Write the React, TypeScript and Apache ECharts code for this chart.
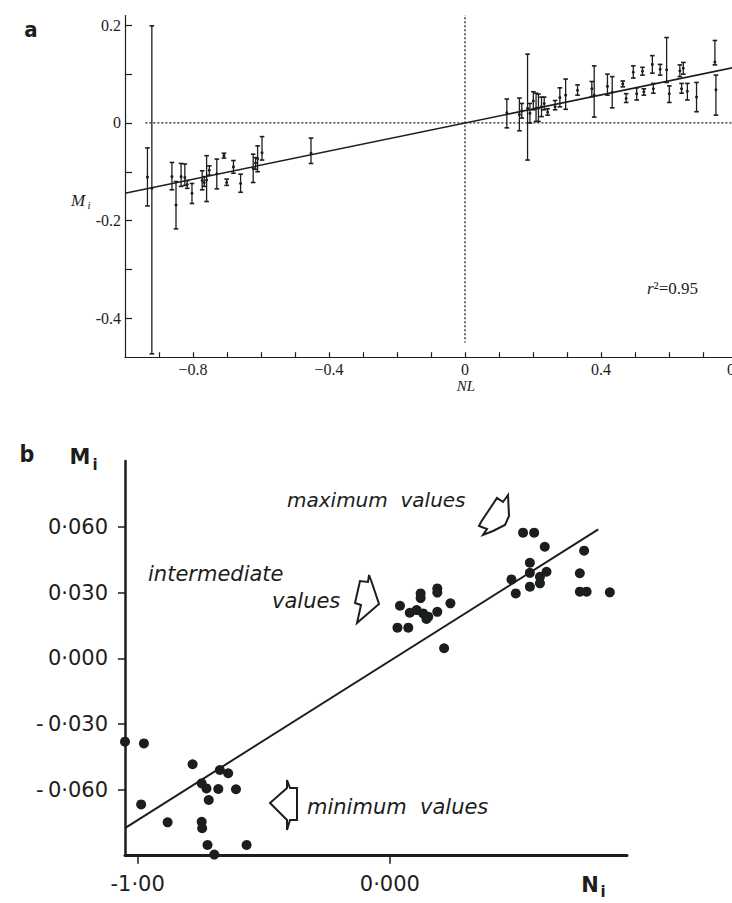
import React, { useEffect, useRef } from 'react';
import * as echarts from 'echarts';

// ---------- Panel a : NL vs M_i with error bars ----------
const aX = [
  -0.934, -0.921, -0.862, -0.850, -0.835, -0.824, -0.817, -0.803, -0.773, -0.767, -0.760,
  -0.752, -0.730, -0.709, -0.701, -0.681, -0.660, -0.623, -0.616, -0.610, -0.597, -0.453,
  0.123, 0.160, 0.167, 0.184, 0.191, 0.201, 0.209, 0.216, 0.225, 0.233, 0.243, 0.265,
  0.279, 0.296, 0.331, 0.373, 0.380, 0.419, 0.433, 0.464, 0.474, 0.495, 0.505, 0.522,
  0.526, 0.551, 0.554, 0.574, 0.593, 0.601, 0.632, 0.642, 0.637, 0.654, 0.681, 0.735, 0.738,
];
const aY = [
  -0.111, -0.134, -0.110, -0.168, -0.110, -0.112, -0.126, -0.144, -0.118, -0.122, -0.117,
  -0.097, -0.104, -0.067, -0.122, -0.090, -0.124, -0.093, -0.082, -0.073, -0.061, -0.062,
  0.021, 0.017, 0.025, 0.030, 0.020, 0.045, 0.030, 0.030, 0.033, 0.040, 0.022, 0.033,
  0.052, 0.057, 0.067, 0.070, 0.057, 0.075, 0.063, 0.080, 0.050, 0.104, 0.060, 0.106,
  0.064, 0.120, 0.070, 0.110, 0.109, 0.060, 0.107, 0.112, 0.070, 0.065, 0.053, 0.125, 0.068,
];
const aLow = [
  -0.170, -0.473, -0.137, -0.217, -0.130, -0.128, -0.134, -0.165, -0.137, -0.130, -0.161,
  -0.107, -0.135, -0.072, -0.128, -0.103, -0.142, -0.122, -0.095, -0.100, -0.076, -0.083,
  -0.010, -0.016, 0.010, -0.076, 0.000, 0.027, 0.003, 0.003, 0.013, 0.027, 0.016, 0.027,
  0.033, 0.028, 0.057, 0.054, 0.012, 0.057, 0.031, 0.074, 0.042, 0.092, 0.047, 0.098,
  0.057, 0.102, 0.061, 0.098, 0.083, 0.042, 0.095, 0.100, 0.061, 0.047, 0.023, 0.119, 0.016,
];
const aHigh = [
  -0.051, 0.199, -0.081, -0.120, -0.083, -0.084, -0.118, -0.124, -0.098, -0.110, -0.067,
  -0.088, -0.074, -0.062, -0.115, -0.077, -0.105, -0.064, -0.071, -0.047, -0.028, -0.031,
  0.049, 0.051, 0.040, 0.141, 0.040, 0.064, 0.061, 0.059, 0.053, 0.053, 0.029, 0.046,
  0.072, 0.090, 0.078, 0.085, 0.117, 0.100, 0.095, 0.086, 0.060, 0.117, 0.072, 0.114,
  0.070, 0.138, 0.081, 0.120, 0.175, 0.076, 0.119, 0.124, 0.081, 0.081, 0.083, 0.169, 0.098,
];
const aFitX = [-1.0, 0.8];
const aFitY = [-0.144, 0.115];
const aXTicks = [-0.9, -0.8, -0.7, -0.6, -0.5, -0.4, -0.3, -0.2, -0.1, 0, 0.1, 0.2, 0.3, 0.4, 0.5, 0.6, 0.7, 0.8];
const aXLabels = [-0.8, -0.4, 0, 0.4, 0.8];
const aYTicks = [0.2, 0.1, 0, -0.1, -0.2, -0.3, -0.4];
const aYLabels = [0.2, 0, -0.2, -0.4];

// ---------- Panel b : N_i vs M_i scatter ----------
const bX = [
  -1.050, -0.975, -0.986, -0.881, -0.782, -0.746, -0.727, -0.718, -0.680, -0.674, -0.641,
  -0.610, -0.746, -0.744, -0.723, -0.696, -0.568,
  0.040, 0.030, 0.073, 0.079, 0.106, 0.122, 0.122, 0.132, 0.145, 0.152, 0.188, 0.188, 0.188,
  0.240, 0.215,
  0.528, 0.572, 0.614, 0.555, 0.482, 0.555, 0.595, 0.621, 0.595, 0.555, 0.499,
  0.770, 0.753, 0.753, 0.780, 0.872,
];
const bY = [
  -0.0380, -0.0388, -0.0666, -0.0748, -0.0483, -0.0570, -0.0593, -0.0646, -0.0596, -0.0509, -0.0524,
  -0.0597, -0.0745, -0.0775, -0.0851, -0.0895, -0.0851,
  0.0240, 0.0140, 0.0140, 0.0208, 0.0220, 0.0296, 0.0275, 0.0205, 0.0180, 0.0190, 0.0319, 0.0300, 0.0212,
  0.0251, 0.0046,
  0.0573, 0.0573, 0.0509, 0.0436, 0.0360, 0.0390, 0.0372, 0.0395, 0.0342, 0.0327, 0.0296,
  0.0491, 0.0388, 0.0304, 0.0304, 0.0301,
];
const bFitX = [-1.05, 0.826];
const bFitY = [-0.0774, 0.0588];
const bXLabels = [-1, 0];
const bYLabels = [0.06, 0.03, 0, -0.03, -0.06];

const INK = '#1d1d1d';
const SERIF = "'Liberation Serif', 'DejaVu Serif', serif";
const SANS = "'DejaVu Sans', sans-serif";
const NARROW = "'Liberation Sans Narrow', 'DejaVu Sans Condensed', 'Liberation Sans', sans-serif";

const fmtA_x = (v: number) => (Math.abs(v) < 1e-9 ? '0' : (v < 0 ? '\u2212' : '') + Math.abs(v).toFixed(1));
const fmtA_y = (v: number) => (Math.abs(v) < 1e-9 ? '0' : (v < 0 ? '-' : '') + Math.abs(v).toFixed(1));
const fmtB_y = (v: number) => (v < -1e-9 ? '-\u2009' : '') + Math.abs(v).toFixed(3).replace('.', '\u00b7');
const fmtB_x = (v: number) => (Math.abs(v) < 1e-9 ? '0\u00b7000' : (v < 0 ? '-' : '') + Math.abs(v).toFixed(2).replace('.', '\u00b7'));

export default function App() {
  const ref = useRef<HTMLDivElement>(null);
  useEffect(() => {
    if (!ref.current) return;
    const chart = echarts.init(ref.current, undefined, { renderer: 'svg' });
    const errData = aX.map((x, i) => [x, aY[i], aLow[i], aHigh[i]]);
    const scatterB = bX.map((x, i) => [x, bY[i]]);
    const option: any = {
      animation: false,
      backgroundColor: '#ffffff',
      grid: [
        { left: 125, top: 15.6, width: 612, height: 341.6, outerBoundsMode: 'none', containLabel: false },
        { left: 125, top: 461, width: 502, height: 394.7, outerBoundsMode: 'none', containLabel: false },
      ],
      xAxis: [
        {
          gridIndex: 0, type: 'value', min: -1.0, max: 0.8,
          axisLine: { onZero: false, lineStyle: { color: INK, width: 1.2 } },
          splitLine: { show: false },
          axisTick: { inside: true, length: 5, customValues: aXTicks, lineStyle: { color: INK, width: 1.2 } },
          axisLabel: { customValues: aXLabels, formatter: fmtA_x, margin: 4, fontFamily: SERIF, fontSize: 16, color: INK, hideOverlap: false },
        },
        {
          gridIndex: 1, type: 'value', min: -1.05, max: 0.94,
          axisLine: { onZero: false, lineStyle: { color: INK, width: 3, cap: 'round' } },
          splitLine: { show: false },
          axisTick: { inside: false, length: 8, customValues: bXLabels, lineStyle: { color: INK, width: 1.5 } },
          axisLabel: { customValues: bXLabels, formatter: fmtB_x, margin: 18, fontFamily: SANS, fontSize: 21, color: INK },
        },
      ],
      yAxis: [
        {
          gridIndex: 0, type: 'value', min: -0.48, max: 0.22,
          axisLine: { onZero: false, lineStyle: { color: INK, width: 1.2 } },
          splitLine: { show: false },
          axisTick: { inside: true, length: 7, customValues: aYTicks, lineStyle: { color: INK, width: 1.2 } },
          axisLabel: { customValues: aYLabels, formatter: fmtA_y, margin: 4, fontFamily: SERIF, fontSize: 16, color: INK },
        },
        {
          gridIndex: 1, type: 'value', min: -0.09, max: 0.09,
          axisLine: { onZero: false, lineStyle: { color: INK, width: 2.5 } },
          splitLine: { show: false },
          axisTick: { inside: false, length: 7, customValues: bYLabels, lineStyle: { color: INK, width: 1.5 } },
          axisLabel: { customValues: bYLabels, formatter: fmtB_y, margin: 17, fontFamily: SANS, fontSize: 21, color: INK },
        },
      ],
      series: [
        {
          type: 'line', xAxisIndex: 0, yAxisIndex: 0, symbol: 'none', silent: true,
          data: [[-0.94, 0], [0.8, 0]],
          lineStyle: { color: INK, width: 1.3, type: [2, 2] },
        },
        {
          type: 'line', xAxisIndex: 0, yAxisIndex: 0, symbol: 'none', silent: true,
          data: [[0, 0.225], [0, -0.45]],
          lineStyle: { color: INK, width: 1.3, type: [2, 2] },
        },
        {
          type: 'line', xAxisIndex: 0, yAxisIndex: 0, symbol: 'none', silent: true,
          data: aFitX.map((x, i) => [x, aFitY[i]]),
          lineStyle: { color: INK, width: 1.5 },
        },
        {
          type: 'custom', xAxisIndex: 0, yAxisIndex: 0, clip: false,
          data: errData,
          encode: { x: 0, y: [1, 2, 3] },
          renderItem: (params: any, api: any) => {
            const x = api.value(0);
            const pc = api.coord([x, api.value(1)]);
            const pl = api.coord([x, api.value(2)]);
            const ph = api.coord([x, api.value(3)]);
            const w = 2.3;
            const st = { stroke: INK, lineWidth: 1.3 };
            return {
              type: 'group',
              children: [
                { type: 'line', shape: { x1: pl[0], y1: pl[1], x2: ph[0], y2: ph[1] }, style: st },
                { type: 'line', shape: { x1: pl[0] - w, y1: pl[1], x2: pl[0] + w, y2: pl[1] }, style: { stroke: INK, lineWidth: 1.6 } },
                { type: 'line', shape: { x1: ph[0] - w, y1: ph[1], x2: ph[0] + w, y2: ph[1] }, style: { stroke: INK, lineWidth: 1.6 } },
                { type: 'circle', shape: { cx: pc[0], cy: pc[1], r: 1.5 }, style: { fill: INK } },
              ],
            };
          },
        },
        {
          type: 'line', xAxisIndex: 1, yAxisIndex: 1, symbol: 'none', silent: true,
          data: bFitX.map((x, i) => [x, bFitY[i]]),
          lineStyle: { color: INK, width: 2 },
        },
        {
          type: 'scatter', xAxisIndex: 1, yAxisIndex: 1, clip: false,
          data: scatterB, symbol: 'circle', symbolSize: 10,
          itemStyle: { color: '#1a1f1d', opacity: 1 },
        },
      ],
      graphic: [
        { type: 'text', x: 31, y: 29, style: { text: 'a', font: `bold 22px ${NARROW}`, fill: INK, align: 'center', verticalAlign: 'middle' } },
        { type: 'text', x: 78, y: 200, style: { text: 'M', font: `italic 17px ${SERIF}`, fill: INK, align: 'center', verticalAlign: 'middle' } },
        { type: 'text', x: 89, y: 205, style: { text: 'i', font: `italic 11px ${SERIF}`, fill: INK, align: 'center', verticalAlign: 'middle' } },
        { type: 'text', x: 466, y: 386, style: { text: 'NL', font: `italic 15px ${SERIF}`, fill: INK, align: 'center', verticalAlign: 'middle' } },
        {
          type: 'text', x: 647, y: 288,
          style: {
            text: '{r|r}{t|\u00b2=0.95}', align: 'left', verticalAlign: 'middle', fill: INK,
            rich: {
              r: { fontFamily: SERIF, fontStyle: 'italic', fontSize: 17, fill: INK },
              t: { fontFamily: SERIF, fontSize: 17, fill: INK },
            },
          },
        },
        { type: 'text', x: 27, y: 454, style: { text: 'b', font: `bold 23px ${NARROW}`, fill: INK, align: 'center', verticalAlign: 'middle' } },
        { type: 'text', x: 80, y: 457, style: { text: 'M', font: `bold 21px ${SANS}`, fill: INK, align: 'center', verticalAlign: 'middle' } },
        { type: 'text', x: 95, y: 465, style: { text: 'i', font: `bold 15px ${SANS}`, fill: INK, align: 'center', verticalAlign: 'middle' } },
        { type: 'text', x: 590, y: 885, style: { text: 'N', font: `bold 21px ${SANS}`, fill: INK, align: 'center', verticalAlign: 'middle' } },
        { type: 'text', x: 603, y: 892, style: { text: 'i', font: `bold 15px ${SANS}`, fill: INK, align: 'center', verticalAlign: 'middle' } },
        { type: 'text', x: 287, y: 500, style: { text: 'maximum  values', font: `italic 20px ${SANS}`, fill: INK, align: 'left', verticalAlign: 'middle' } },
        { type: 'text', x: 148, y: 574, style: { text: 'intermediate', font: `italic 21px ${SANS}`, fill: INK, align: 'left', verticalAlign: 'middle' } },
        { type: 'text', x: 272, y: 601, style: { text: 'values', font: `italic 21px ${SANS}`, fill: INK, align: 'left', verticalAlign: 'middle' } },
        { type: 'text', x: 307, y: 807, style: { text: 'minimum  values', font: `italic 21px ${SANS}`, fill: INK, align: 'left', verticalAlign: 'middle' } },
        {
          type: 'polygon',
          shape: { points: [[508, 495], [503, 502], [497, 498], [481, 522], [479, 526], [487, 529], [483, 535], [493, 531], [505, 525], [509, 516]] },
          style: { fill: '#fff', stroke: INK, lineWidth: 2 },
        },
        {
          type: 'polygon',
          shape: { points: [[369, 575], [368, 582], [360, 581], [355, 603], [361, 605], [357, 623], [379, 604], [372, 583]] },
          style: { fill: '#fff', stroke: INK, lineWidth: 2 },
        },
        {
          type: 'polygon',
          shape: { points: [[287, 780], [287, 788], [270, 803], [287, 820], [287, 830], [290, 820], [297, 820], [297, 788], [290, 788]] },
          style: { fill: '#fff', stroke: INK, lineWidth: 2 },
        },
      ],
    };
    chart.setOption(option);
    return () => chart.dispose();
  }, []);
  return <div ref={ref} style={{ position: 'absolute', left: 0, top: 0, width: 732, height: 903, background: '#fff' }} />;
}
